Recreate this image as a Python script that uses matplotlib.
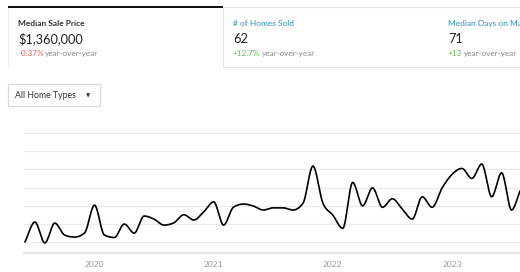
import numpy as np
import pandas as pd
import matplotlib
matplotlib.use("Agg")
import matplotlib.pyplot as plt
from matplotlib.patches import Rectangle

# Monthly median sale price ($K), Jun 2019 - Sep 2023
months = pd.date_range("2019-06-01", "2023-09-01", freq="MS")
price = [900, 1010, 895, 1004, 938, 927, 950,
         1103, 938, 925, 999, 949, 1043, 1026, 993, 1006, 1050, 1021, 1066,
         1121, 993, 1092, 1109, 1098, 1076, 1088, 1088, 1076, 1114, 1318, 1114,
         1048, 975, 1228, 1099, 1198, 1091, 1138, 1081, 1026, 1149, 1091, 1197,
         1272, 1305, 1250, 1329, 1149, 1281, 1076, 1197, 1241]
year_ticks = ["2020", "2021", "2022", "2023"]

cards = [
    ("Median Sale Price", "$1,360,000", "-0.37%", "#f05a5a"),
    ("# of Homes Sold", "62", "+12.7%", "#66b84c"),
    ("Median Days on Market", "71", "+13", "#66b84c"),
]
card_x = [18, 233, 448]

W, H = 520, 272
plt.rcParams["font.family"] = ["Lato", "DejaVu Sans"]


def fx(x):
    return x / W


def fy(y):
    return 1 - y / H


def monotone(x, y, n=20):
    # monotone cubic (like d3 curveMonotoneX)
    x = np.asarray(x, float)
    y = np.asarray(y, float)
    h = np.diff(x)
    s = np.diff(y) / h
    m = np.zeros_like(y)
    for i in range(1, len(y) - 1):
        if s[i - 1] * s[i] <= 0:
            m[i] = 0
        else:
            p = (s[i - 1] * h[i] + s[i] * h[i - 1]) / (h[i - 1] + h[i])
            m[i] = np.sign(s[i - 1]) * min(abs(s[i - 1]), abs(s[i]), 0.5 * abs(p)) * 2
    m[0] = s[0]
    m[-1] = s[-1]
    xs, ys = [], []
    for i in range(len(h)):
        t = np.linspace(0, 1, n, endpoint=False)
        h00 = 2 * t**3 - 3 * t**2 + 1
        h10 = t**3 - 2 * t**2 + t
        h01 = -2 * t**3 + 3 * t**2
        h11 = t**3 - t**2
        xs.append(x[i] + t * h[i])
        ys.append(h00 * y[i] + h10 * h[i] * m[i] + h01 * y[i + 1] + h11 * h[i] * m[i + 1])
    xs.append([x[-1]])
    ys.append([y[-1]])
    return np.concatenate(xs), np.concatenate(ys)


fig = plt.figure(figsize=(W / 100, H / 100), dpi=100)
fig.patch.set_facecolor("white")

# cards
fig.patches.append(Rectangle((fx(223), fy(67)), fx(W - 223 + 5), 60 / H,
                             transform=fig.transFigure, facecolor="white",
                             edgecolor="#e6e6e6", linewidth=0.8))
fig.patches.append(Rectangle((fx(8), fy(67)), fx(0.1), 60 / H,
                             transform=fig.transFigure, facecolor="white",
                             edgecolor="#ececec", linewidth=0.6))
fig.patches.append(Rectangle((fx(8), fy(7.8)), fx(215), 1.6 / H,
                             transform=fig.transFigure, facecolor="#111111",
                             edgecolor="none"))

for i, (title, value, change, ccol) in enumerate(cards):
    x0 = card_x[i]
    tcol = "#333333" if i == 0 else "#2a93b8"
    fig.text(fx(x0), fy(25.7), title, fontsize=6, fontweight="bold" if i == 0 else "normal",
             color=tcol, va="baseline", ha="left")
    fig.text(fx(x0), fy(42.7), value, fontsize=9.2, color="#222222", va="baseline", ha="left")
    t = fig.text(fx(x0), fy(56), change, fontsize=5.9, color=ccol, va="baseline", ha="left")
    fig.canvas.draw()
    bb = t.get_window_extent()
    fig.text(bb.x1 / W + 1.5 / W, fy(56), "year-over-year", fontsize=5.9, color="#888888",
             va="baseline", ha="left")

# dropdown
fig.patches.append(Rectangle((fx(8), fy(105.5)), fx(91.5), 21.5 / H,
                             transform=fig.transFigure, facecolor="white",
                             edgecolor="#d9d9d9", linewidth=0.8))
fig.text(fx(15), fy(98.5), "All Home Types", fontsize=6.3, color="#333333", va="baseline")
fig.text(fx(88.5), fy(95.5), "\u25bc", fontsize=4, color="#444444", va="center", ha="center",
         family=["DejaVu Sans"])

# chart
ax = fig.add_axes([fx(24), fy(253), fx(W - 24), (253 - 126) / H])
mx = np.array([(m.year - 2020) * 12 + (m.month - 1) for m in months], float)
sx, sy = monotone(mx, price)
ax.plot(sx, sy, color="black", linewidth=1.2, solid_capstyle="round", zorder=3)

x_left = (24 - 94.5) / 9.93
x_right = (520 - 94.5) / 9.93
ax.set_xlim(x_left, x_right)
ybot = 900 - 11 / 18.2 * 100
ytop = 1500 + 7 / 18.2 * 100
ax.set_ylim(ybot, ytop)
for v in range(900, 1501, 100):
    ax.axhline(v, color="#ebebeb", linewidth=0.9, zorder=1)
ax.axhline(ybot, color="#e4e4e4", linewidth=1.6, zorder=1, clip_on=False)
ax.set_yticks([])
ax.set_xticks([0, 12, 24, 36])
ax.set_xticklabels(year_ticks, fontsize=6, color="#9a9a9a")
ax.tick_params(axis="x", length=0, pad=5.5)
for s in ax.spines.values():
    s.set_visible(False)
ax.set_facecolor("none")

fig.savefig("out.png", dpi=100, facecolor="white")
